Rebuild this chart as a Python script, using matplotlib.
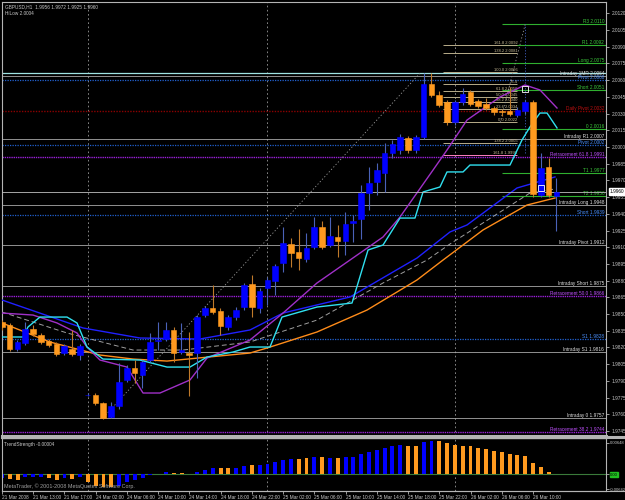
import matplotlib
matplotlib.use("Agg")
import matplotlib.pyplot as plt
import matplotlib.transforms as mtransforms
from matplotlib.patches import Rectangle
from matplotlib.lines import Line2D

plt.rcParams['font.family'] = ['Liberation Sans Narrow', 'DejaVu Sans Condensed', 'Liberation Sans', 'DejaVu Sans']

# ---- candles (bar index, O H L C), GBPUSD H1
bars = list(range(-1, 71))
opens = [1.9843, 1.9840, 1.9819, 1.9824, 1.9837, 1.9831, 1.9826, 1.9823, 1.9815, 1.9819,
         1.9813, 1.9777, 1.9777, 1.9770, 1.9758, 1.9767, 1.9791, 1.9802, 1.9795, 1.9809,
         1.9826, 1.9828, 1.9836, 1.9816, 1.9815, 1.9815, 1.9849, 1.9855, 1.9853, 1.9838,
         1.9847, 1.9856, 1.9877, 1.9855, 1.9873, 1.9880, 1.9896, 1.9913, 1.9906, 1.9899,
         1.9910, 1.9928, 1.9912, 1.9919, 1.9916, 1.9932, 1.9935, 1.9959, 1.9969, 1.9977,
         1.9995, 1.9997, 2.0008, 1.9997, 2.0009, 2.0057, 2.0047, 2.0040, 2.0022, 2.0040,
         2.0049, 2.0041, 2.0039, 2.0035, 2.0032, 2.0032, 2.0029, 2.0032, 2.0040, 1.9957,
         1.9982, 1.9956]
highs = [1.9845, 1.9842, 1.9827, 1.9843, 1.9840, 1.9833, 1.9828, 1.9825, 1.9823, 1.9836,
         1.9823, 1.9779, 1.9779, 1.9771, 1.9771, 1.9806, 1.9804, 1.9809, 1.9809, 1.9833,
         1.9843, 1.9843, 1.9838, 1.9842, 1.9834, 1.9849, 1.9857, 1.9876, 1.9855, 1.9849,
         1.9856, 1.9878, 1.9885, 1.9873, 1.9883, 1.9895, 1.9928, 1.9918, 1.9926, 1.9923,
         1.9937, 1.9934, 1.9937, 1.9930, 1.9942, 1.9939, 1.9966, 1.9982, 1.9986, 2.0004,
         2.0006, 2.0012, 2.0010, 2.0011, 2.0066, 2.0066, 2.0050, 2.0042, 2.0042, 2.0053,
         2.0051, 2.0043, 2.0044, 2.0037, 2.0034, 2.0054, 2.0036, 2.0042, 2.0042, 1.9995,
         1.9990, 1.9972]
lows = [1.9836, 1.9817, 1.9817, 1.9822, 1.9830, 1.9823, 1.9820, 1.9812, 1.9813, 1.9812,
        1.9809, 1.9776, 1.9768, 1.9756, 1.9757, 1.9765, 1.9789, 1.9788, 1.9784, 1.9807,
        1.9818, 1.9826, 1.9807, 1.9814, 1.9776, 1.9793, 1.9847, 1.9850, 1.9831, 1.9836,
        1.9845, 1.9854, 1.9847, 1.9851, 1.9858, 1.9867, 1.9888, 1.9892, 1.9890, 1.9897,
        1.9908, 1.9908, 1.9910, 1.9901, 1.9903, 1.9915, 1.9917, 1.9943, 1.9957, 1.9960,
        1.9990, 1.9994, 1.9995, 1.9995, 2.0007, 2.0045, 2.0036, 2.0020, 2.0020, 2.0038,
        2.0037, 2.0035, 2.0033, 2.0029, 2.0028, 2.0028, 2.0027, 2.0030, 1.9955, 1.9955,
        1.9955, 1.9925]
closes = [1.9838, 1.9819, 1.9825, 1.9837, 1.9832, 1.9825, 1.9822, 1.9814, 1.9821, 1.9814,
          1.9821, 1.9777, 1.9770, 1.9757, 1.9767, 1.9789, 1.9802, 1.9797, 1.9807, 1.9825,
          1.9827, 1.9836, 1.9815, 1.9818, 1.9813, 1.9847, 1.9855, 1.9852, 1.9839, 1.9847,
          1.9854, 1.9876, 1.9856, 1.9871, 1.9881, 1.9893, 1.9914, 1.9905, 1.9900, 1.9909,
          1.9928, 1.9910, 1.9920, 1.9916, 1.9931, 1.9934, 1.9959, 1.9968, 1.9979, 1.9995,
          2.0003, 2.0009, 1.9997, 2.0009, 2.0057, 2.0047, 2.0038, 2.0022, 2.0040, 2.0048,
          2.0039, 2.0037, 2.0035, 2.0031, 2.0031, 2.0030, 2.0033, 2.0040, 1.9958, 1.9981,
          1.9957, 1.9960]

# ---- TrendStrength histogram (same bars)
trend = [-0.00078, -0.00098, -0.00118, -0.00049, -0.00049, -0.00059, -0.00078, -0.00118, -0.00078, -0.00098,
         -0.00059, -0.00157, -0.00235, -0.00255, -0.00255, -0.00235, -0.00157, -0.00118, -0.00078, -0.00029,
         0.00006, 0.00039, 0.00020, 0.00020, 0.00010, 0.00039, 0.00078, 0.00118, 0.00118, 0.00118,
         0.00118, 0.00157, 0.00176, 0.00176, 0.00196, 0.00235, 0.00274, 0.00294, 0.00294, 0.00314,
         0.00333, 0.00333, 0.00314, 0.00314, 0.00333, 0.00333, 0.00392, 0.00431, 0.00470, 0.00510,
         0.00549, 0.00568, 0.00549, 0.00549, 0.00627, 0.00648, 0.00648, 0.00608, 0.00568, 0.00549,
         0.00549, 0.00510, 0.00490, 0.00451, 0.00431, 0.00392, 0.00372, 0.00353, 0.00216, 0.00137,
         0.00039, 0.00000]
trend_up = [1, 0, 0, 1, 1, 1, 0, 0, 1, 0, 1, 0, 0, 0, 0, 1, 1, 1, 1, 1,
            1, 1, 0, 0, 1, 1, 1, 1, 0, 0, 1, 1, 0, 1, 1, 1, 1, 1, 0, 0,
            1, 0, 1, 0, 1, 1, 1, 1, 1, 1, 1, 1, 0, 0, 1, 1, 0, 0, 0, 0,
            0, 0, 0, 0, 0, 0, 0, 0, 0, 0, 0, 1]

# ---- moving averages / bands (bar, price) breakpoints
ma_blue_x = [-0.96, 9.41, 16.70, 24.38, 30.78, 35.01, 43.58, 52.16, 56.38, 58.56, 64.96, 69.82]
ma_blue_y = [1.98626, 1.98375, 1.98285, 1.98276, 1.98357, 1.98509, 1.98653, 1.99003, 1.99237, 1.99300, 1.99632, 1.99731]
ma_orange_x = [-0.96, 5.18, 11.58, 15.81, 20.16, 30.78, 32.96, 39.36, 45.76, 52.16, 55.49, 60.61, 66.24, 69.82]
ma_orange_y = [1.98420, 1.98249, 1.98132, 1.98096, 1.98078, 1.98150, 1.98195, 1.98339, 1.98536, 1.98806,
               1.98985, 1.99255, 1.99479, 1.99542]
ma_grey_x = [-0.96, 7.36, 15.81, 22.21, 30.78, 39.36, 47.81, 53.44, 56.38, 66.62, 69.82]
ma_grey_y = [1.98518, 1.98330, 1.98177, 1.98177, 1.98249, 1.98446, 1.98779, 1.98985, 1.99129, 1.99587, 1.99623]
ma_purple_x = [-0.96, 3.01, 6.08, 8.64, 9.92, 11.58, 15.04, 17.09, 19.26, 23.10, 25.28, 30.78, 35.01,
               39.36, 43.58, 47.81, 49.98, 54.21, 56.00, 58.56, 62.78, 65.98, 67.90, 70.08]
ma_purple_y = [1.98509, 1.98491, 1.98420, 1.98330, 1.98204, 1.98087, 1.98024, 1.97791, 1.97791, 1.97908,
               1.98105, 1.98267, 1.98509, 1.98779, 1.98985, 1.99192, 1.99371, 1.99793, 1.99973, 2.00242,
               2.00449, 2.00557, 2.00512, 2.00350]
cyan_x = [-0.96, 1.73, 2.37, 3.90, 7.36, 8.64, 9.92, 11.97, 16.70, 20.16, 23.10, 25.28, 28.61, 30.78,
          33.34, 34.88, 39.36, 43.84, 45.89, 47.81, 49.98, 51.90, 52.93, 55.10, 56.00, 58.05, 58.94,
          64.06, 65.60, 66.62, 67.90, 68.80, 70.08]
cyan_y = [1.98294, 1.98294, 1.98384, 1.98473, 1.98473, 1.98420, 1.98204, 1.98096, 1.98087, 1.98024,
          1.98024, 1.98114, 1.98159, 1.98204, 1.98204, 1.98473, 1.98563, 1.98599, 1.99075, 1.99120,
          1.99362, 1.99362, 1.99596, 1.99641, 1.99776, 1.99776, 1.99838, 1.99838, 2.00063, 2.00180,
          2.00305, 2.00305, 2.00171]

# ---- labelled horizontal levels (right side)
green_names = ["R3 2.0110", "R1 2.0092", "Long 2.0075", "Short 2.0051", "0 2.0016", "T1 1.9977", "T2 1.9956"]
green_vals = [2.0110, 2.0092, 2.0075, 2.0051, 2.0016, 1.9977, 1.9956]
intraday_names = ["Intraday 1MR 2.0064", "Intraday R1 2.0007", "Intraday Long 1.9948", "Intraday Pivot 1.9912",
                  "Intraday Short 1.9875", "Intraday S1 1.9816", "Intraday 0 1.9757"]
intraday_vals = [2.0064, 2.0007, 1.9948, 1.9912, 1.9875, 1.9816, 1.9757]
pivot_names = ["Pivot 2.0060", "Pivot 2.0002", "Short 1.9939", "S1 1.9828"]
pivot_vals = [2.0060, 2.0002, 1.9939, 1.9828]
retr_names = ["Retracement 61.8 1.9991", "Retracement 50.0 1.9866", "Retracement 38.2 1.9744"]
retr_vals = [1.9991, 1.9866, 1.9744]
daily_name = "Daily Pivot 2.0032"
daily_val = 2.0032
cyan_level = 2.0066

# fibonacci tool labels
fib_names = ["161.8 2.0092", "138.2 2.0081", "100.0 2.0066", "76.4", "61.8 2.0050", "50.0 2.0045",
             "38.2 2.0040", "23.6 2.0034", "0.0 2.0022", "138.2 2.0005", "161.8 1.9993"]
fib_vals = [2.0092, 2.0084, 2.0067, 2.0057, 2.0050, 2.0045, 2.0040, 2.0034, 2.0022, 2.0004, 1.9993]

price_ticks = [2.0120, 2.0105, 2.0090, 2.0075, 2.0060, 2.0045, 2.0030, 2.0015, 2.0000, 1.9985,
               1.9970, 1.9955, 1.9940, 1.9925, 1.9910, 1.9895, 1.9880, 1.9865, 1.9850, 1.9835,
               1.9820, 1.9805, 1.9790, 1.9775, 1.9760, 1.9745]
time_pos = [-1, 3, 7, 11, 15, 19, 23, 27, 31, 35, 39, 43, 47, 51, 55, 59, 63, 67]
time_labels = ["21 Mar 2008", "21 Mar 13:00", "21 Mar 17:00", "24 Mar 02:00", "24 Mar 06:00", "24 Mar 10:00",
               "24 Mar 14:00", "24 Mar 18:00", "24 Mar 22:00", "25 Mar 02:00", "25 Mar 06:00", "25 Mar 10:00",
               "25 Mar 14:00", "25 Mar 18:00", "25 Mar 22:00", "26 Mar 02:00", "26 Mar 06:00", "26 Mar 10:00"]
day_starts = [10, 33, 57]
swing_x = [12, 52.5]
swing_y = [1.9757, 2.0066]
swing2_x = [62.8, 66.0]
swing2_y = [2.0022, 2.0110]
marker_bars = [66, 68]
marker_prices = [2.0052, 1.9963]

BLUE = '#0000ff'
ORANGE = '#ff9a1f'
FG = '#c8c8c8'
FS = 3.4

fig = plt.figure(figsize=(6.25, 5), dpi=100, facecolor='black')
ax = fig.add_axes([2/625, 1 - 436/500, 604/625, 434/500], facecolor='black')
ax2 = fig.add_axes([2/625, 1 - 491/500, 604/625, 53/500], facecolor='black')

xlim = (-0.96, 76.35)
ax.set_xlim(*xlim)
ax.set_ylim(1.97405, 2.01302)
ax2.set_xlim(*xlim)
ax2.set_ylim(-0.00333, 0.00706)

for a in (ax, ax2):
    for s in a.spines.values():
        s.set_color('#b4b4b4')
        s.set_linewidth(0.8)
ax.spines['bottom'].set_linewidth(2.2)
ax2.spines['top'].set_linewidth(1.0)

# panel separators run across the label strip as well
fig.add_artist(Line2D([2/625, 1], [1 - 437/500, 1 - 437/500], color='#b4b4b4', lw=2.2))
fig.add_artist(Line2D([2/625, 1], [1 - 491/500, 1 - 491/500], color='#b4b4b4', lw=0.8))

# separators
for d in day_starts:
    ax.axvline(d, color='#9a9a9a', lw=0.6, ls=(0, (2, 3)), zorder=1)
    ax2.axvline(d, color='#9a9a9a', lw=0.6, ls=(0, (2, 3)), zorder=1)

tr = mtransforms.blended_transform_factory(ax.transAxes, ax.transData)

# long lines
ax.axhline(cyan_level, color='#9fe3e3', lw=0.9, zorder=2)
ax.axhline(daily_val, color='#8b0000', lw=1.0, ls=(0, (1, 1)), zorder=2)
ax.text(0.997, daily_val, daily_name, color='#c01010', fontsize=FS, ha='right', va='bottom', transform=tr)
for n, v in zip(intraday_names, intraday_vals):
    ax.axhline(v, color='#a8a8a8', lw=0.6, zorder=2)
    ax.text(0.997, v, n, color='#e0e0e0', fontsize=FS, ha='right', va='bottom', transform=tr)
for n, v in zip(pivot_names, pivot_vals):
    ax.axhline(v, color='#2060d0', lw=0.9, ls=(0, (1, 1)), zorder=2)
    ax.text(0.997, v, n, color='#4a90ff', fontsize=FS, ha='right', va='bottom', transform=tr)
for n, v in zip(retr_names, retr_vals):
    ax.axhline(v, color='#9a20d8', lw=1.0, ls=(0, (1, 0.6)), zorder=2)
    ax.text(0.997, v, n, color='#c050ff', fontsize=FS, ha='right', va='bottom', transform=tr)
for n, v in zip(green_names, green_vals):
    ax.hlines(v, 63, xlim[1], color='#2fb02f', lw=0.8, zorder=2)
    ax.text(0.997, v, n, color='#3cc83c', fontsize=FS, ha='right', va='bottom', transform=tr)

# fibonacci tool
for n, v in zip(fib_names, fib_vals):
    col = '#ff80c0' if n.startswith("161.8 1.") else '#b8ad8a'
    ax.hlines(v, 55.5, 65, color=col, lw=0.7, zorder=2)
    ax.text(65, v, n, color='#c8bc96', fontsize=FS - 0.4, ha='right', va='bottom')
ax.plot(swing_x, swing_y, color='#9a9a9a', lw=0.6, ls=(0, (1.5, 2.5)), zorder=2)
ax.plot(swing2_x, swing2_y, color='#9a9a9a', lw=0.6, ls=(0, (1.5, 2.5)), zorder=2)
ax.vlines(swing2_x[1], 1.9995, swing2_y[1], color='#4060c0', lw=0.6, ls=(0, (1.5, 2)), zorder=2)

# indicator lines
ax.plot(ma_grey_x, ma_grey_y, color='#a0a0a0', lw=0.7, ls=(0, (5, 3)), zorder=3)
ax.plot(ma_orange_x, ma_orange_y, color='#ff8c1a', lw=1.0, zorder=3)
ax.plot(ma_blue_x, ma_blue_y, color='#2020ff', lw=1.0, zorder=3)
ax.plot(ma_purple_x, ma_purple_y, color='#a030c8', lw=1.0, zorder=3)
ax.plot(cyan_x, cyan_y, color='#30e0f0', lw=1.0, zorder=3)

# candles
for i, o, h, l, c in zip(bars, opens, highs, lows, closes):
    up = c >= o
    body = BLUE if up else ORANGE
    wick = '#4a62b8' if up else '#c07a2a'
    ax.vlines(i, l, h, color=wick, lw=0.8, zorder=4)
    bottom = min(o, c)
    height = max(abs(c - o), 0.00004)
    ax.add_patch(Rectangle((i - 0.36, bottom), 0.72, height, facecolor=body,
                           edgecolor=body, lw=0.4, zorder=5))

# small object markers
ax.plot(marker_bars, marker_prices, ls='none', marker='s', ms=4, mfc='none', mec='white', mew=0.6, zorder=6)

# bid line
ax.axhline(closes[-1], color='#c0c0c0', lw=0.6, zorder=3)

# price axis
ax.yaxis.tick_right()
ax.set_yticks(price_ticks)
ax.set_yticklabels(["%.4f" % p for p in price_ticks])
ax.tick_params(axis='y', colors='#b4b4b4', labelcolor=FG, labelsize=FS, length=2, width=0.6, pad=2)
ax.set_xticks([])
ax.text(1.006, closes[-1], "%.4f" % closes[-1], transform=tr, fontsize=FS, color='black',
        ha='left', va='center', bbox=dict(boxstyle='square,pad=0.15', fc='white', ec='white'))

ax.text(0.005, 0.994, "GBPUSD,H1  1.9956 1.9972 1.9925 1.9960", transform=ax.transAxes,
        color=FG, fontsize=FS, ha='left', va='top')
ax.text(0.005, 0.980, "HiLow 2.0004", transform=ax.transAxes, color=FG, fontsize=FS, ha='left', va='top')

# trend strength panel
ax2.axhline(0, color='#3a7a3a', lw=0.8, zorder=1)
for i, v, u in zip(bars, trend, trend_up):
    ax2.bar(i, v, width=0.5, color=BLUE if u else ORANGE, zorder=2)
ax2.yaxis.tick_right()
ax2.set_yticks([0.00610, 0.0, -0.0030])
ax2.set_yticklabels(["0.00648", "0.00", "-0.00642"])
ax2.tick_params(axis='y', colors='#b4b4b4', labelcolor=FG, labelsize=FS - 0.4, length=2, width=0.6, pad=1)
ax2.get_yticklabels()[1].set_bbox(dict(boxstyle='square,pad=0.1', fc='#20c020', ec='#20c020'))
ax2.get_yticklabels()[1].set_color('black')
ax2.set_xticks(time_pos)
ax2.set_xticklabels(time_labels)
ax2.tick_params(axis='x', colors='#b4b4b4', labelcolor=FG, labelsize=FS, length=2, width=0.6, pad=1)
for lbl in ax2.get_xticklabels():
    lbl.set_ha('left')
ax2.text(0.004, 0.93, "TrendStrength -0.00004", transform=ax2.transAxes, color=FG, fontsize=FS,
         ha='left', va='top')
ax2.text(0.004, 0.03, "MetaTrader, \u00a9 2001-2008 MetaQuotes Software Corp.", transform=ax2.transAxes,
         color='#a0a0a0', fontsize=FS + 0.5, ha='left', va='bottom')

fig.savefig("out.png", dpi=100, facecolor='black')
